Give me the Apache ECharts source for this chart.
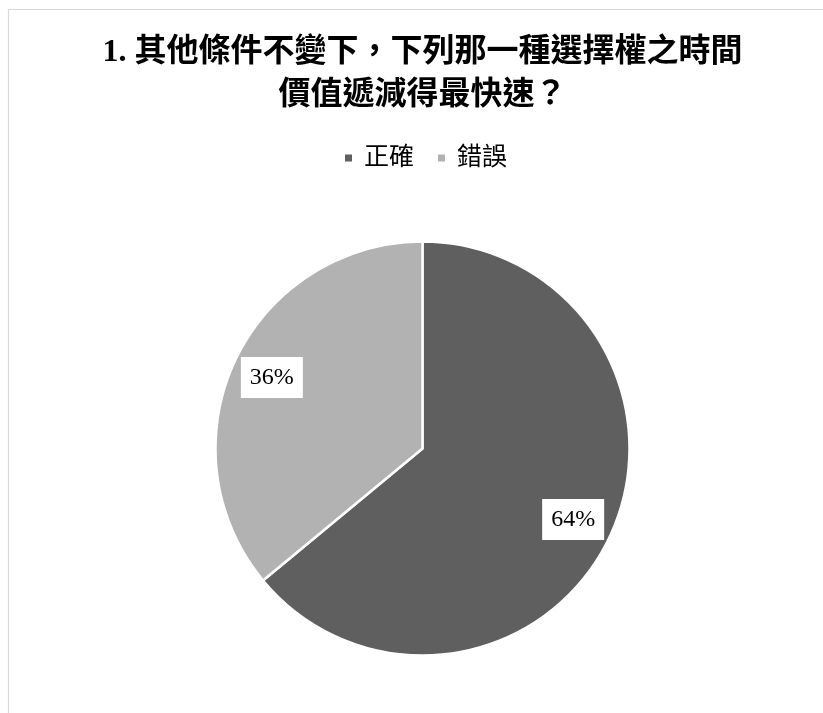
<!DOCTYPE html>
<html>
<head>
<meta charset="utf-8">
<script src="https://cdn.jsdelivr.net/npm/echarts@6/dist/echarts.min.js"></script>
<style>
html,body{margin:0;padding:0;background:#fff;}
#chart{width:823px;height:713px;}
</style>
</head>
<body>
<div id="chart"></div>
<script>
const titleText = '1. 其他條件不變下，下列那一種選擇權之時間\n價值遞減得最快速？';
const categories = ['正確', '錯誤'];
const values = [64, 36];
const colors = ['#5f5f5f', '#b2b2b2'];

const FONT = "'Liberation Serif', 'Noto Sans CJK TC', serif";
const chart = echarts.init(document.getElementById('chart'));
const pieData = categories.map((c, i) => ({ name: c, value: values[i], itemStyle: { color: colors[i] } }));
const labelData = categories.map((c, i) => ({ name: c, value: values[i], itemStyle: { color: 'rgba(0,0,0,0)' } }));

chart.setOption({
  backgroundColor: '#ffffff',
  animation: false,
  graphic: [{
    type: 'rect',
    shape: { x: 8.5, y: 9.5, width: 900, height: 800 },
    style: { fill: 'none', stroke: '#d9d9d9', lineWidth: 1.2 },
    silent: true
  }],
  title: {
    text: titleText,
    left: 422.5,
    textAlign: 'center',
    top: 31,
    padding: 0,
    textStyle: { fontFamily: FONT, fontSize: 32, fontWeight: 'bold', color: '#000', lineHeight: 43 }
  },
  legend: {
    data: categories,
    left: 343,
    top: 143,
    padding: 0,
    icon: 'rect',
    itemWidth: 9,
    itemHeight: 9,
    itemGap: 22,
    textStyle: { fontFamily: FONT, fontSize: 25, color: '#000', lineHeight: 30, padding: [0, 0, 0, 6] }
  },
  series: [{
    type: 'pie',
    center: [422.5, 448.5],
    radius: [0, 207],
    startAngle: 90,
    clockwise: true,
    silent: true,
    label: { show: false },
    labelLine: { show: false },
    itemStyle: { borderColor: '#fff', borderWidth: 2.5 },
    emphasis: { disabled: true },
    data: pieData
  }, {
    type: 'pie',
    center: [422.5, 448.5],
    radius: [120, 207],
    startAngle: 90,
    clockwise: true,
    silent: true,
    emphasis: { disabled: true },
    labelLine: { show: false },
    label: {
      show: true,
      position: 'inside',
      formatter: '{d}%',
      fontFamily: "'Liberation Serif', serif",
      fontSize: 24,
      color: '#000',
      backgroundColor: '#fff',
      padding: [9, 9, 8, 9]
    },
    data: labelData
  }]
});
</script>
</body>
</html>
